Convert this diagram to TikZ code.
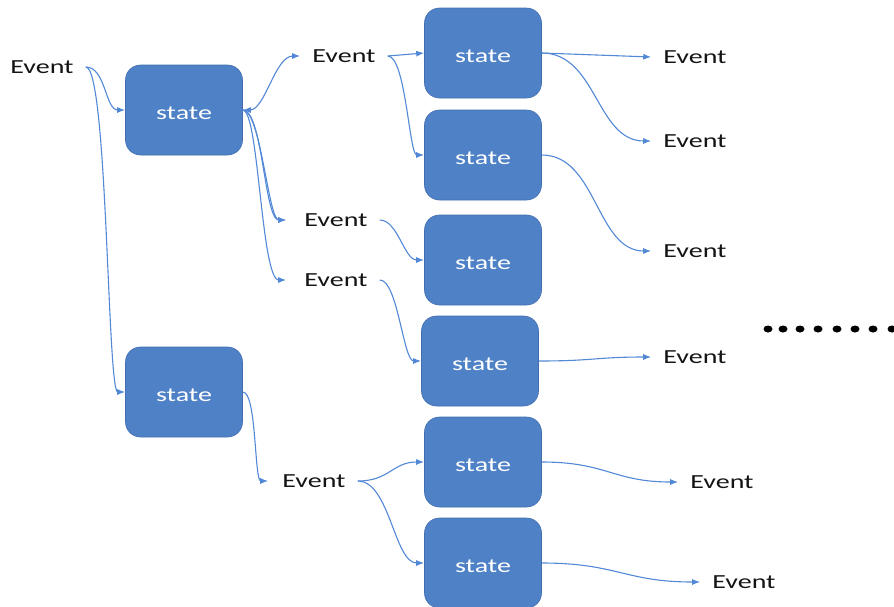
\documentclass[tikz,border=0pt]{standalone}
\usepackage{fontspec}
\usepackage{graphicx}
\setmainfont{Carlito}
\usetikzlibrary{arrows.meta}
\definecolor{boxblue}{RGB}{79,129,199}
\definecolor{boxedge}{RGB}{66,110,175}
\definecolor{linkblue}{RGB}{82,136,214}
\newcommand\sx[1]{\scalebox{1.4}[1]{#1}}
\begin{document}
\begin{tikzpicture}[x=1pt,y=-1pt,
 stbox/.style={rectangle, rounded corners=15pt, fill=boxblue, draw=boxedge, line width=0.6pt,
   minimum width=117pt, minimum height=90pt, text=white, text height=20pt, text depth=2pt,
   font=\fontsize{20}{24}\selectfont},
 evt/.style={inner xsep=12pt, inner ysep=2pt, font=\fontsize{20}{24}\selectfont, text=black!92},
 link/.style={draw=linkblue, line width=1.1pt, -{Latex[length=8pt,width=6pt]}},
 dot/.style={fill=black},
]
\useasboundingbox (0,0) rectangle (894,606);

% state boxes
\node[stbox] (S1) at (184,110) {\sx{state}};
\node[stbox] (S2) at (184,392) {\sx{state}};
\node[stbox] (A) at (483,53) {\sx{state}};
\node[stbox] (B) at (483,155) {\sx{state}};
\node[stbox] (C) at (483,260) {\sx{state}};
\node[stbox] (D) at (480,361) {\sx{state}};
\node[stbox] (E) at (483,462) {\sx{state}};
\node[stbox] (F) at (483,563) {\sx{state}};

% events
\node[evt] (E0) at (42,67) {\sx{Event}};
\node[evt] (E1) at (344,56) {\sx{Event}};
\node[evt] (E2) at (336,220) {\sx{Event}};
\node[evt] (E3) at (336,280) {\sx{Event}};
\node[evt] (E4) at (314,481) {\sx{Event}};
\node[evt] (R1) at (695,57) {\sx{Event}};
\node[evt] (R2) at (695,141) {\sx{Event}};
\node[evt] (R3) at (695,251) {\sx{Event}};
\node[evt] (R4) at (695,357) {\sx{Event}};
\node[evt] (R5) at (722,482) {\sx{Event}};
\node[evt] (R6) at (744,582) {\sx{Event}};

% connectors
\draw[link] (E0.east) .. controls +(20,0) and +(-20,0) .. (S1.west);
\draw[link] (E0.east) .. controls +(22,0) and +(-18,0) .. (S2.west);
\draw[link, {Latex[length=8pt,width=6pt]}-{Latex[length=8pt,width=6pt]}] (S1.east) .. controls +(22,0) and +(-25,0) .. (E1.west);
\draw[link] (S1.east) .. controls +(20,0) and +(-22,0) .. ([xshift=-6pt]E2.west);
\draw[link] (S1.east) .. controls +(16,0) and +(-25,0) .. ([xshift=-6pt]E3.west);
\draw[link] (S1.east) .. controls +(18,0) and +(-18,0) .. ([xshift=-6pt]E2.west);
\draw[link] (E1.east) -- (A.west);
\draw[link] (E1.east) .. controls +(18,0) and +(-15,0) .. (B.west);
\draw[link] (E2.east) .. controls +(18,0) and +(-20,0) .. (C.west);
\draw[link] (E3.east) .. controls +(18,0) and +(-18,0) .. (D.west);
\draw[link] (S2.east) .. controls +(14,0) and +(-14,0) .. ([xshift=-2pt]E4.west);
\draw[link] (E4.east) .. controls +(32,0) and +(-32,0) .. (E.west);
\draw[link] (E4.east) .. controls +(32,0) and +(-30,0) .. (F.west);
\draw[link] (A.east) -- (R1.west);
\draw[link] (A.east) .. controls +(55,0) and +(-55,0) .. (R2.west);
\draw[link] (B.east) .. controls +(55,0) and +(-55,0) .. (R3.west);
\draw[link] (D.east) .. controls +(55,0) and +(-55,0) .. (R4.west);
\draw[link] (E.east) .. controls +(65,0) and +(-65,0) .. (R5.west);
\draw[link] (F.east) .. controls +(75,0) and +(-75,0) .. (R6.west);

% continuation dots
\foreach \x in {768,783,800,818,837,855,873,892}
  \fill[dot] (\x,329) ellipse [x radius=4.5pt, y radius=3.5pt];
\end{tikzpicture}
\end{document}
